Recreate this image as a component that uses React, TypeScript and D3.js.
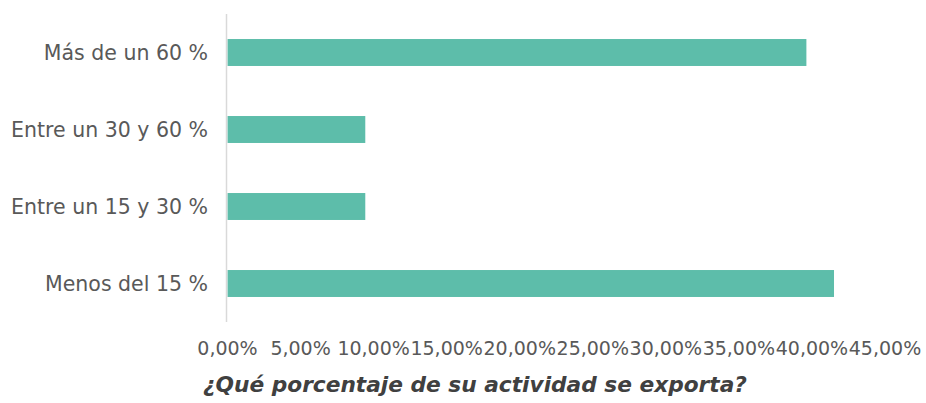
import React from 'react';
import * as d3 from 'd3';

const categories = ['Más de un 60 %', 'Entre un 30 y 60 %', 'Entre un 15 y 30 %', 'Menos del 15 %'];
const values = [39.62, 9.43, 9.43, 41.51];
const xTicks = [0, 5, 10, 15, 20, 25, 30, 35, 40, 45];
const title = '¿Qué porcentaje de su actividad se exporta?';

const App = () => {
    const width = 926;
    const height = 403;

    const x = d3.scaleLinear().domain([0, 45]).range([227.5, 885]);
    const y = d3.scaleBand().domain(categories).range([14, 322]).paddingInner(0.65).paddingOuter(0.325);

    const fmt = (v: number) => v.toFixed(2).replace('.', ',') + '%';
    const font = 'DejaVu Sans, sans-serif';

    return (
        <svg width={width} height={height} style={{ position: 'absolute', left: 0, top: 0 }}>
            <rect width={width} height={height} fill="#ffffff" />
            {categories.map((c, i) => (
                <rect key={c} x={x(0)} y={y(c)} width={x(values[i]) - x(0)} height={y.bandwidth()} fill="#5dbdaa" />
            ))}
            <line x1={226.5} x2={226.5} y1={14} y2={322} stroke="#d9d9d9" strokeWidth={1.5} />
            {categories.map(c => (
                <text
                    key={c}
                    x={208}
                    y={(y(c) ?? 0) + y.bandwidth() / 2}
                    textAnchor="end"
                    dominantBaseline="central"
                    fontFamily={font}
                    fontSize={20.5}
                    fill="#595959"
                >
                    {c}
                </text>
            ))}
            {xTicks.map(t => (
                <text key={t} x={x(t)} y={355} textAnchor="middle" fontFamily={font} fontSize={19} fill="#595959">
                    {fmt(t)}
                </text>
            ))}
            <text x={203} y={392} fontFamily={font} fontSize={21.7} fontStyle="italic" fontWeight={600} fill="#404040">
                {title}
            </text>
        </svg>
    );
};

export default App;
